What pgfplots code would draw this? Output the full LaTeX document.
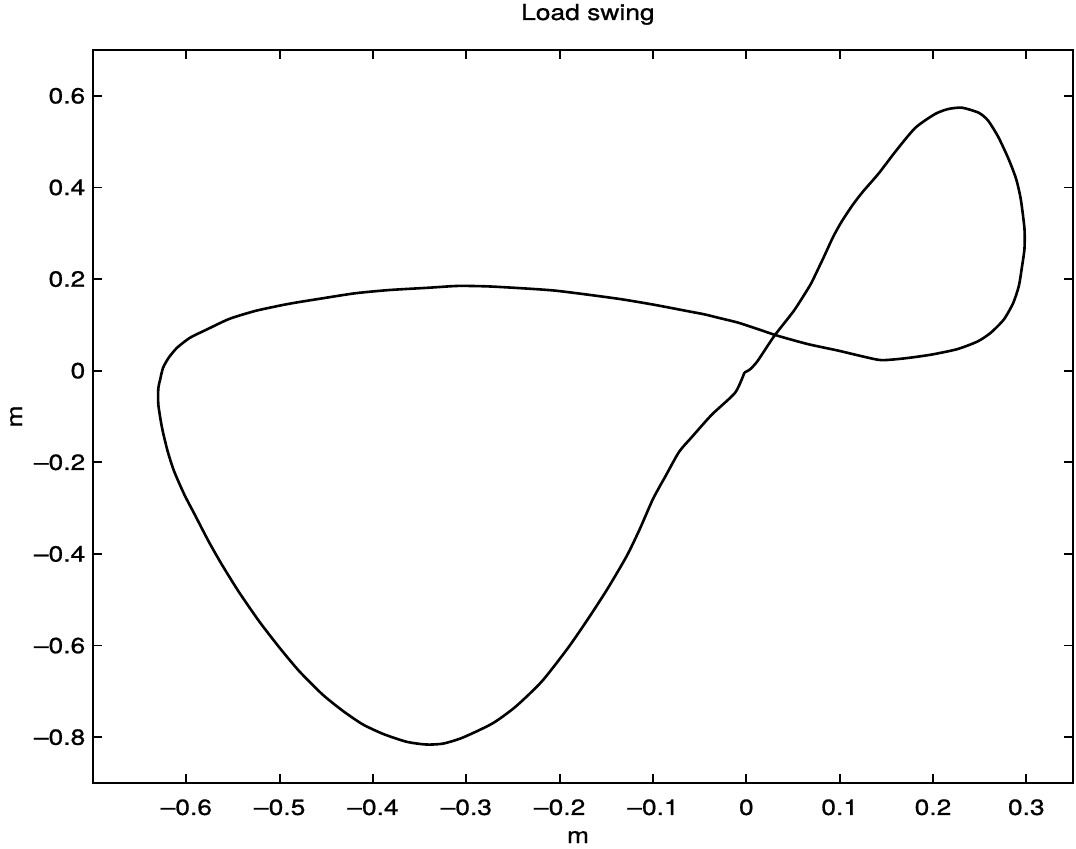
\documentclass[border=0pt]{standalone}
\usepackage{fontspec}
\setmainfont{TeX Gyre Heros}[FakeStretch=1.2, FakeBold=0.8]
\usepackage{pgfplots}
\pgfplotsset{compat=1.18}

% trajectory of the suspended load (x and y displacement, metres)
\pgfplotstableread{
x y
-0.002 -0.004
0.004 0.003
0.012 0.021
0.030 0.076
0.051 0.131
0.067 0.182
0.072 0.201
0.083 0.248
0.093 0.292
0.102 0.325
0.114 0.362
0.125 0.391
0.142 0.431
0.160 0.479
0.181 0.530
0.202 0.560
0.216 0.571
0.231 0.574
0.249 0.563
0.259 0.546
0.270 0.510
0.281 0.462
0.289 0.419
0.294 0.375
0.298 0.310
0.298 0.266
0.295 0.222
0.292 0.185
0.286 0.148
0.276 0.112
0.262 0.083
0.248 0.064
0.226 0.047
0.198 0.035
0.170 0.027
0.145 0.023
0.127 0.030
0.098 0.044
0.066 0.058
0.034 0.076
0.012 0.091
-0.009 0.105
-0.029 0.115
-0.045 0.123
-0.063 0.130
-0.099 0.144
-0.134 0.156
-0.170 0.166
-0.206 0.175
-0.241 0.180
-0.277 0.184
-0.309 0.185
-0.341 0.181
-0.383 0.176
-0.419 0.169
-0.454 0.158
-0.490 0.146
-0.525 0.131
-0.554 0.113
-0.579 0.089
-0.596 0.072
-0.610 0.050
-0.619 0.028
-0.625 0.006
-0.628 -0.019
-0.630 -0.038
-0.630 -0.074
-0.626 -0.125
-0.620 -0.176
-0.613 -0.220
-0.602 -0.271
-0.591 -0.314
-0.576 -0.373
-0.562 -0.423
-0.544 -0.482
-0.522 -0.547
-0.500 -0.605
-0.479 -0.656
-0.454 -0.707
-0.432 -0.743
-0.411 -0.772
-0.389 -0.793
-0.364 -0.810
-0.343 -0.816
-0.325 -0.814
-0.304 -0.801
-0.272 -0.770
-0.247 -0.733
-0.219 -0.678
-0.191 -0.605
-0.170 -0.543
-0.149 -0.477
-0.128 -0.404
-0.114 -0.345
-0.100 -0.280
-0.086 -0.228
-0.072 -0.177
-0.058 -0.144
-0.037 -0.096
-0.012 -0.048
-0.002 -0.004
}\swingdata

\begin{document}
\fontsize{11}{13}\selectfont
\begin{tikzpicture}
\begin{axis}[
  at={(0,0)}, anchor=south west,
  width=490pt, height=366.5pt, scale only axis,
  xmin=-0.7, xmax=0.35, ymin=-0.9, ymax=0.7,
  xtick={-0.6,-0.5,-0.4,-0.3,-0.2,-0.1,0,0.1,0.2,0.3},
  xticklabels={\textendash0.6,\textendash0.5,\textendash0.4,\textendash0.3,\textendash0.2,\textendash0.1,0,0.1,0.2,0.3},
  ytick={-0.8,-0.6,-0.4,-0.2,0,0.2,0.4,0.6},
  yticklabels={\textendash0.8,\textendash0.6,\textendash0.4,\textendash0.2,0,0.2,0.4,0.6},
  tick align=inside,
  major tick length=4.5pt,
  axis line style={line width=1pt, black},
  every tick/.style={line width=0.9pt, black},
  tick label style={font=\fontsize{11}{13}\selectfont},
  xticklabel style={yshift=-4.3pt},
  title={Load swing},
  title style={at={(axis description cs:0.505,1)}, anchor=base, yshift=9pt,
    font=\fontsize{11}{13}\selectfont},
  xlabel={m},
  xlabel style={at={(axis description cs:0.495,0)}, anchor=base, yshift=-30pt,
    font=\fontsize{11}{13}\selectfont},
  ylabel={m},
  ylabel style={at={(axis description cs:-0.0724,0.5)}, anchor=base,
    font=\fontsize{11}{13}\selectfont},
]
\addplot[black, line width=1.3pt, line join=round, smooth, tension=0.4]
  table[x=x, y=y] {\swingdata};
\end{axis}
\pgfresetboundingbox
\path[use as bounding box] (-46.5pt,-32.5pt) rectangle (491.5pt,391.5pt);
\end{tikzpicture}
\end{document}
